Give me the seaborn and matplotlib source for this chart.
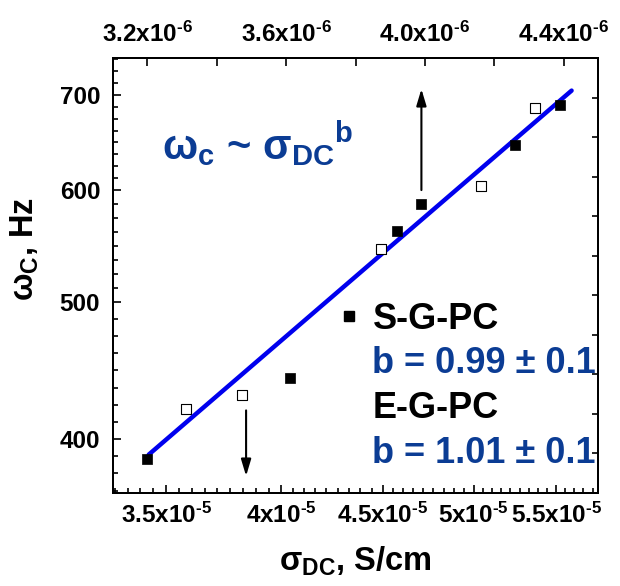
"""
Critical frequency vs DC conductivity (log-log) for S-G-PC and E-G-PC.
"""

import numpy as np
import pandas as pd
import matplotlib
matplotlib.use("Agg")
import matplotlib.pyplot as plt
from matplotlib.lines import Line2D
from matplotlib.ticker import FixedLocator, FixedFormatter, NullFormatter
import seaborn as sns

# --- data -----------------------------------------------------------------
# S-G-PC (filled squares) -> top axis, sigma in S/cm
s_sigma = [3.20e-6, 3.61e-6, 3.92e-6, 3.99e-6, 4.26e-6, 4.39e-6]
s_omega = [387, 442, 561, 586, 645, 689]
# E-G-PC (open squares) -> bottom axis
e_sigma = [3.58e-5, 3.82e-5, 4.49e-5, 5.04e-5, 5.37e-5]
e_omega = [420, 430, 545, 604, 685]
# power-law fit line (bottom axis)
fit_sigma = [3.43e-5, 5.60e-5]
fit_omega = [390, 705]

# arrows pointing to the axis each series belongs to
up_arrow_sigma = 3.99e-6
up_arrow_omega = [597, 710]
down_arrow_sigma = 3.84e-5
down_arrow_omega = [421, 375]

HY = "\u2010"  # short hyphen for the exponents
bottom_ticks = [3.5e-5, 4e-5, 4.5e-5, 5e-5, 5.5e-5]
bottom_labels = [f"3.5x10$^{{{HY}5}}$", f"4x10$^{{{HY}5}}$", f"4.5x10$^{{{HY}5}}$",
                 f"5x10$^{{{HY}5}}$", f"5.5x10$^{{{HY}5}}$"]
top_ticks = [3.2e-6, 3.6e-6, 4.0e-6, 4.4e-6]
top_minor = [3.4e-6, 3.8e-6, 4.2e-6]
top_labels = [f"3.2x10$^{{{HY}6}}$", f"3.6x10$^{{{HY}6}}$", f"4.0x10$^{{{HY}6}}$",
              f"4.4x10$^{{{HY}6}}$"]
y_ticks = [400, 500, 600, 700]
y_labels = ["400", "500", "600", "700"]

legend_labels = ["S-G-PC", "b = 0.99 \u00b1 0.1", "E-G-PC", "b = 1.01 \u00b1 0.1"]

BLUE_TXT = "#0b3c94"
BLUE_LINE = "#0000ee"

sns.set_style("ticks")
plt.rcParams["font.family"] = ["Liberation Sans", "DejaVu Sans"]
plt.rcParams["font.weight"] = "bold"
plt.rcParams["mathtext.fontset"] = "custom"
plt.rcParams["mathtext.rm"] = "Liberation Sans:bold"
plt.rcParams["mathtext.bf"] = "Liberation Sans:bold"
plt.rcParams["mathtext.it"] = "Liberation Sans:bold"
plt.rcParams["mathtext.default"] = "bf"
plt.rcParams["axes.linewidth"] = 1.3
for key in ["text.color", "axes.labelcolor", "axes.edgecolor", "xtick.color", "ytick.color"]:
    plt.rcParams[key] = "black"


def log_minor(majors, lo, hi, n=8):
    # evenly spaced (in display) minor ticks between majors, as in the original
    majors = np.asarray(majors, dtype=float)
    out = []
    for i in range(len(majors) - 1):
        st = np.log(majors[i + 1] / majors[i]) / n
        out += [majors[i] * np.exp(st * k) for k in range(1, n)]
    st = np.log(majors[1] / majors[0]) / n
    v = majors[0] * np.exp(-st)
    while v > lo:
        out.append(v)
        v = v * np.exp(-st)
    st = np.log(majors[-1] / majors[-2]) / n
    v = majors[-1] * np.exp(st)
    while v < hi:
        out.append(v)
        v = v * np.exp(st)
    return sorted(out)


fig = plt.figure(figsize=(6.2, 5.86), dpi=100)
ax = fig.add_axes([0.1818, 0.1592, 0.7832, 0.7413])

XMIN, XMAX = 3.29e-5, 5.776e-5
YMIN, YMAX = 366.6, 743

fit_df = pd.DataFrame({"sigma": fit_sigma, "omega": fit_omega})
e_df = pd.DataFrame({"sigma": e_sigma, "omega": e_omega})
s_df = pd.DataFrame({"sigma": s_sigma, "omega": s_omega})

ax.set_xscale("log")
ax.set_yscale("log")
sns.lineplot(data=fit_df, x="sigma", y="omega", ax=ax, color=BLUE_LINE, lw=3.2, zorder=2)
sns.scatterplot(data=e_df, x="sigma", y="omega", ax=ax, marker="s", s=60,
                facecolor="white", edgecolor="black", linewidth=0.8, zorder=3)
ax.annotate("", xy=(down_arrow_sigma, down_arrow_omega[1]),
            xytext=(down_arrow_sigma, down_arrow_omega[0]),
            arrowprops=dict(arrowstyle="-|>,head_length=0.5,head_width=0.15",
                            mutation_scale=20, color="black", lw=1.5))
ax.set_xlim(XMIN, XMAX)
ax.set_ylim(YMIN, YMAX)

ax.xaxis.set_major_locator(FixedLocator(bottom_ticks))
ax.xaxis.set_major_formatter(FixedFormatter(bottom_labels))
ax.xaxis.set_minor_locator(FixedLocator(log_minor(bottom_ticks, XMIN, XMAX, n=9)))
ax.xaxis.set_minor_formatter(NullFormatter())
ax.yaxis.set_major_locator(FixedLocator(y_ticks))
ax.yaxis.set_major_formatter(FixedFormatter(y_labels))
ax.yaxis.set_minor_locator(FixedLocator(log_minor(y_ticks, YMIN, YMAX, n=8)))
ax.yaxis.set_minor_formatter(NullFormatter())
ax.tick_params(which="both", direction="in", top=False, right=False, width=1.2)
ax.tick_params(which="major", length=6, labelsize=17.5)
ax.tick_params(axis="x", which="major", pad=7)
ax.tick_params(axis="y", which="major", pad=9)
ax.tick_params(which="minor", length=3.5)

ax.set_xlabel("\u03c3$_{DC}$, S/cm", fontsize=23.5, fontweight="bold")
ax.set_ylabel("\u03c9$_{C}$, Hz", fontsize=23.5, fontweight="bold")
ax.xaxis.set_label_coords(0.5, -0.12)
ax.yaxis.set_label_coords(-0.147, 0.56)

# top axis: S-G-PC conductivity (linear)
ax_top = ax.twiny()
sns.scatterplot(data=s_df, x="sigma", y="omega", ax=ax_top, marker="s", s=60,
                color="black", edgecolor="black", linewidth=0.5, zorder=4)
ax_top.annotate("", xy=(up_arrow_sigma, up_arrow_omega[1]),
                xytext=(up_arrow_sigma, up_arrow_omega[0]),
                arrowprops=dict(arrowstyle="-|>,head_length=0.5,head_width=0.15",
                                mutation_scale=20, color="black", lw=1.5))
ax_top.set_xlim(3.1e-6, 4.5e-6)
ax_top.set_ylim(YMIN, YMAX)
ax_top.set_xlabel("")
ax_top.set_ylabel("")
ax_top.xaxis.set_major_locator(FixedLocator(top_ticks))
ax_top.xaxis.set_major_formatter(FixedFormatter(top_labels))
ax_top.xaxis.set_minor_locator(FixedLocator(top_minor))
ax_top.tick_params(axis="x", which="both", direction="in", length=6, width=1.2,
                   labelsize=17.5, pad=8, top=True, bottom=False)
ax_top.tick_params(axis="y", which="both", left=False, right=False,
                   labelleft=False, labelright=False)

# right axis: plain evenly spaced ticks, no labels
ax_r = ax.twinx()
ax_r.set_ylim(0, 11)
ax_r.yaxis.set_major_locator(FixedLocator(np.arange(1, 11)))
ax_r.tick_params(axis="y", direction="in", length=4.5, width=1.2, labelright=False)

ax.text(0.101, 0.766, "\u03c9$_{c}$ ~ \u03c3$_{DC}{}^{b}$", transform=ax.transAxes,
        fontsize=30, fontweight="bold", color=BLUE_TXT, ha="left", va="baseline")

handles = [Line2D([], [], marker="s", color="black", ls="none", markersize=7)]
handles += [Line2D([], [], ls="none", marker=None) for _ in range(3)]
leg = ax_top.legend(handles, legend_labels, loc="upper left", bbox_to_anchor=(0.468, 0.44),
                    frameon=False, fontsize=26, handlelength=0.5, handletextpad=0.4,
                    borderpad=0, borderaxespad=0, labelspacing=0.27)
for txt, col in zip(leg.get_texts(), ["black", BLUE_TXT, "black", BLUE_TXT]):
    txt.set_color(col)
    txt.set_fontweight("bold")

plt.savefig("out.png", dpi=100)
plt.close()
